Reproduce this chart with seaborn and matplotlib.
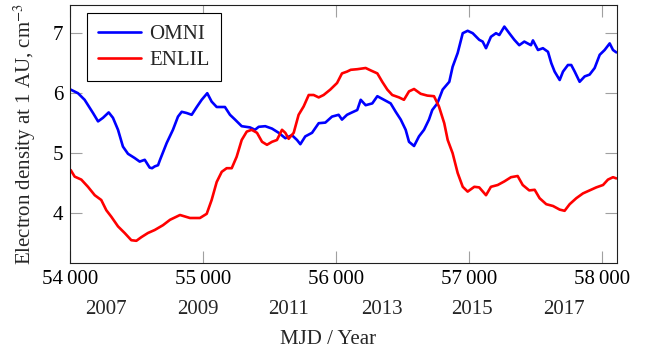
import matplotlib
matplotlib.use("Agg")
import matplotlib.pyplot as plt
from matplotlib.ticker import FuncFormatter, FixedLocator
import seaborn as sns
import pandas as pd

# Smoothed electron density at 1 AU (cm^-3) versus Modified Julian Date
omni_mjd = [54005, 54060, 54110, 54173, 54211, 54248, 54291, 54323, 54361, 54398,
            54436, 54486, 54524, 54562, 54599, 54617, 54637, 54662, 54677, 54727,
            54774, 54812, 54840, 54877, 54915, 54953, 54990, 55032, 55065, 55103,
            55165, 55203, 55241, 55291, 55353, 55391, 55419, 55468, 55519, 55569,
            55619, 55669, 55707, 55732, 55769, 55820, 55870, 55920, 55970, 56020,
            56045, 56083, 56111, 56160, 56186, 56223, 56273, 56311, 56361, 56411,
            56449, 56487, 56524, 56549, 56587, 56624, 56662, 56699, 56724, 56762,
            56802, 56852, 56877, 56915, 56953, 56990, 57028, 57077, 57103, 57128,
            57165, 57203, 57228, 57266, 57303, 57341, 57378, 57416, 57466, 57481,
            57519, 57556, 57594, 57619, 57644, 57682, 57707, 57744, 57769, 57795,
            57832, 57870, 57907, 57945, 57983, 58020, 58058, 58083, 58108]
omni_density = [6.06, 6.00, 5.89, 5.67, 5.53, 5.59, 5.68, 5.59, 5.39, 5.11,
                4.99, 4.92, 4.86, 4.89, 4.76, 4.75, 4.78, 4.80, 4.89, 5.17,
                5.39, 5.61, 5.69, 5.67, 5.64, 5.77, 5.89, 6.00, 5.86, 5.77,
                5.77, 5.64, 5.56, 5.45, 5.43, 5.39, 5.44, 5.45, 5.41, 5.34,
                5.25, 5.30, 5.22, 5.15, 5.28, 5.34, 5.50, 5.51, 5.61, 5.64,
                5.56, 5.64, 5.67, 5.72, 5.89, 5.80, 5.83, 5.95, 5.89, 5.83,
                5.69, 5.56, 5.39, 5.19, 5.12, 5.28, 5.39, 5.56, 5.72, 5.83,
                6.06, 6.19, 6.44, 6.67, 7.00, 7.04, 7.00, 6.89, 6.86, 6.75,
                6.94, 7.00, 6.97, 7.11, 7.00, 6.89, 6.80, 6.86, 6.80, 6.88,
                6.72, 6.75, 6.69, 6.50, 6.36, 6.22, 6.36, 6.47, 6.47, 6.36,
                6.19, 6.28, 6.31, 6.42, 6.64, 6.72, 6.83, 6.72, 6.68]

enlil_mjd = [54005, 54035, 54085, 54135, 54186, 54235, 54273, 54311, 54361, 54411,
             54461, 54499, 54536, 54586, 54637, 54699, 54752, 54827, 54902, 54977,
             55028, 55065, 55103, 55141, 55178, 55216, 55253, 55291, 55329, 55366,
             55406, 55444, 55481, 55519, 55556, 55594, 55619, 55644, 55682, 55719,
             55757, 55795, 55832, 55870, 55907, 55957, 56008, 56045, 56083, 56111,
             56160, 56223, 56261, 56311, 56348, 56386, 56423, 56474, 56511, 56549,
             56587, 56637, 56687, 56737, 56774, 56814, 56840, 56877, 56915, 56953,
             56990, 57040, 57077, 57128, 57165, 57216, 57266, 57316, 57366, 57404,
             57453, 57494, 57531, 57581, 57632, 57682, 57719, 57757, 57807, 57857,
             57907, 57957, 58008, 58045, 58083, 58108]
enlil_density = [4.72, 4.61, 4.56, 4.44, 4.30, 4.22, 4.05, 3.94, 3.78, 3.67,
                 3.55, 3.54, 3.60, 3.67, 3.72, 3.80, 3.89, 3.97, 3.92, 3.92,
                 3.99, 4.22, 4.52, 4.69, 4.75, 4.75, 4.94, 5.22, 5.36, 5.39,
                 5.34, 5.19, 5.14, 5.19, 5.22, 5.39, 5.34, 5.24, 5.34, 5.64,
                 5.78, 5.97, 5.97, 5.93, 5.97, 6.06, 6.17, 6.33, 6.36, 6.39,
                 6.40, 6.42, 6.38, 6.33, 6.19, 6.06, 5.97, 5.93, 5.89, 6.03,
                 6.07, 5.99, 5.96, 5.95, 5.78, 5.50, 5.22, 5.00, 4.67, 4.44,
                 4.36, 4.44, 4.43, 4.30, 4.44, 4.47, 4.53, 4.60, 4.62, 4.47,
                 4.38, 4.39, 4.25, 4.15, 4.12, 4.06, 4.04, 4.15, 4.25, 4.33,
                 4.38, 4.43, 4.47, 4.56, 4.60, 4.58]

mjd_ticks = [54000, 55000, 56000, 57000, 58000]
density_ticks = [4, 5, 6, 7]
year_positions = [54267, 54959, 55645, 56344, 57026, 57714]
year_labels = ["2007", "2009", "2011", "2013", "2015", "2017"]

df = pd.concat([
    pd.DataFrame({"mjd": omni_mjd, "density": omni_density, "source": "OMNI"}),
    pd.DataFrame({"mjd": enlil_mjd, "density": enlil_density, "source": "ENLIL"}),
], ignore_index=True)

sns.set_theme(style="ticks")
plt.rcParams["font.family"] = ["Liberation Serif", "DejaVu Serif"]
plt.rcParams["mathtext.fontset"] = "stix"
FS = 15
plt.rcParams["font.size"] = FS

fig = plt.figure(figsize=(6.56, 3.55), dpi=100)
ax = fig.add_axes([70 / 656, 1 - 263 / 355, 547 / 656, 258 / 355])

sns.lineplot(data=df, x="mjd", y="density", hue="source",
             palette={"OMNI": "#0000ff", "ENLIL": "#ff0000"},
             estimator=None, sort=False, linewidth=1.9, ax=ax, legend=False)

ax.set_xlim(54000, 58113)
ax.set_ylim(3.17, 7.47)
ax.xaxis.set_major_locator(FixedLocator(mjd_ticks))
ax.yaxis.set_major_locator(FixedLocator(density_ticks))
ax.xaxis.set_major_formatter(FuncFormatter(
    lambda v, p: f"{int(v) // 1000}\u2009{int(v) % 1000:03d}"))
ax.yaxis.set_major_formatter(FuncFormatter(lambda v, p: f"{int(v)}"))

ax.tick_params(direction="in", length=8.6, width=0.8, color="#a0a0a0",
               top=True, right=True, labelsize=FS, pad=5, labelcolor="black")
for s in ax.spines.values():
    s.set_color("#202020")
    s.set_linewidth(0.8)

# Calendar years beneath the MJD axis
sec = ax.secondary_xaxis("bottom")
sec.set_xticks(year_positions, labels=year_labels)
sec.tick_params(length=0, pad=27, labelsize=FS)
sec.spines["bottom"].set_visible(False)

ax.set_xlabel("MJD / Year", fontsize=FS)
ax.xaxis.set_label_coords((328 - 70) / 547, -0.258)
ax.set_ylabel("Electron density at 1 AU, cm$^{-3}$", fontsize=FS)
ax.yaxis.set_label_coords(-0.058, 0.5)

handles = [plt.Line2D([], [], color="#0000ff", lw=1.9),
           plt.Line2D([], [], color="#ff0000", lw=1.9)]
leg = ax.legend(handles, ["OMNI", "ENLIL"], loc="upper left",
                bbox_to_anchor=((87 - 70) / 547, (263 - 13) / 258),
                borderaxespad=0, fancybox=False, framealpha=1,
                edgecolor="black", fontsize=FS, handlelength=2.05,
                handletextpad=0.4, labelspacing=0.3, borderpad=0.55)
leg.get_frame().set_linewidth(0.8)

fig.savefig("out.png", dpi=100)
